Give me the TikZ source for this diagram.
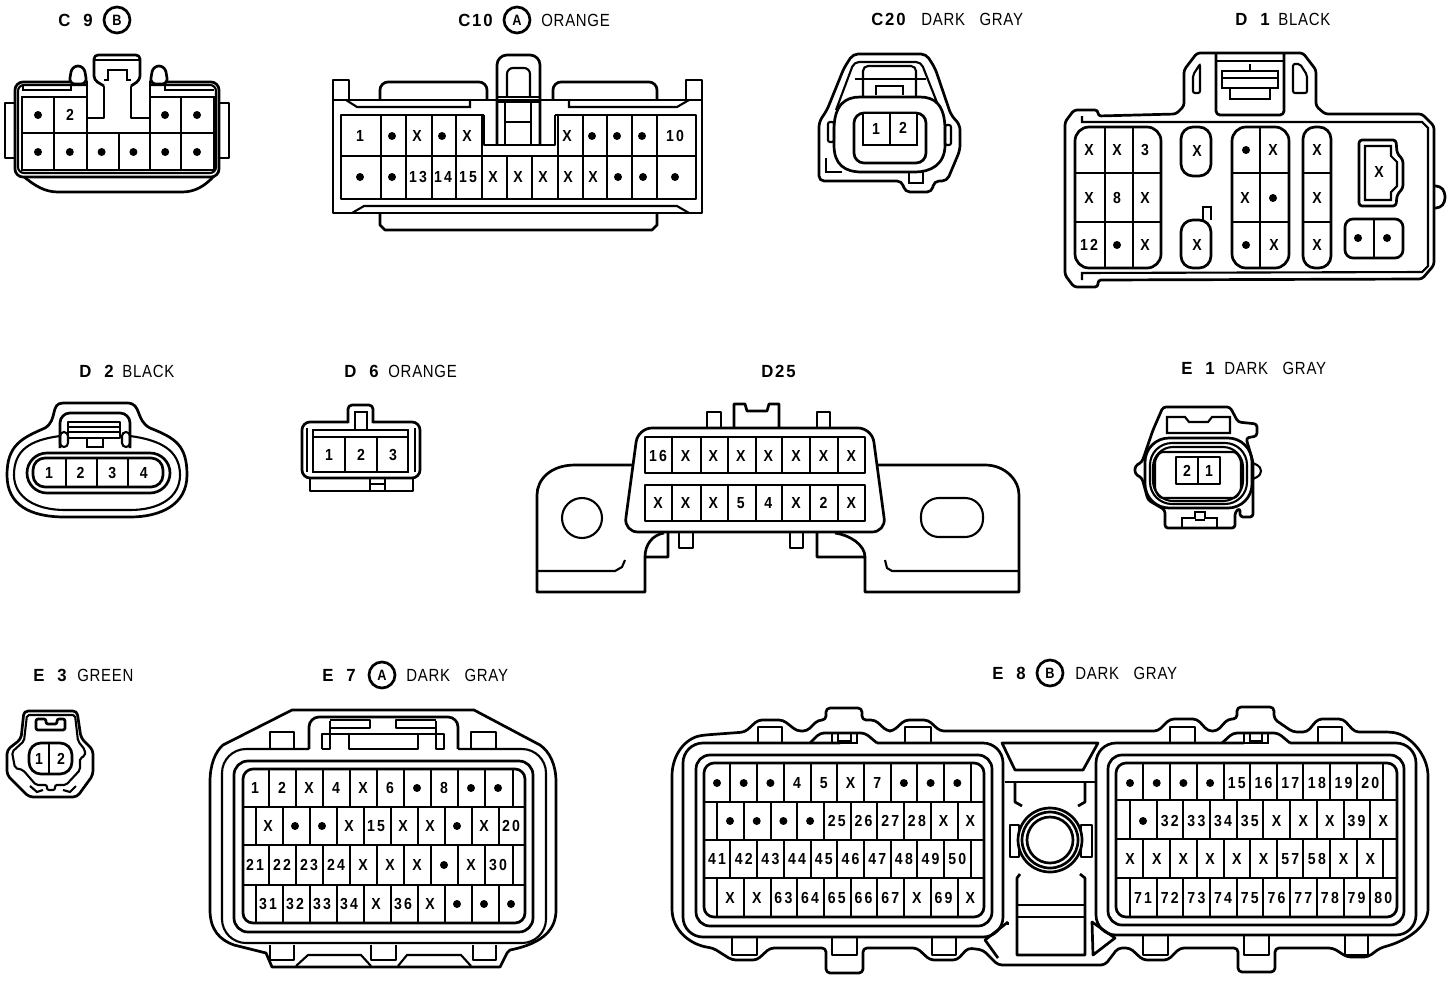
\documentclass[tikz,border=0pt]{standalone}
\usepackage{fontspec}
\setmainfont{Liberation Sans}[FakeStretch=0.85,LetterSpace=4,WordSpace=3]
\newfontfamily\pinfont{Liberation Sans}[FakeStretch=0.88,LetterSpace=14]
\newfontfamily\idfont{Liberation Sans}[FakeStretch=0.95,LetterSpace=10,WordSpace=2]
\tikzset{
    part/.style={line width=1.35pt, line join=round},
    cell/.style={line width=1.05pt},
    pin/.style={inner sep=0pt, font=\pinfont\bfseries\fontsize{8}{8}\selectfont},
    title/.style={anchor=west, inner sep=0pt, font=\fontsize{8.8}{9}\selectfont},
    idtitle/.style={anchor=west, inner sep=0pt, font=\idfont\bfseries\fontsize{8.8}{9}\selectfont},
    badge/.style={circle, draw, line width=1.35pt, minimum size=13pt, inner sep=0pt, font=\bfseries\fontsize{7.5}{8}\selectfont},
}
\newcommand{\pd}{\tikz\fill (0,0) circle (2pt);}
% one row of pin labels: name, first x, pitch, y, labels
\newcommand{\pinrow}[5]{\foreach \lab [count=\n from 0] in {#5} \node[pin] (#1-\n) at ({#2+\n*#3},#4) {\lab};}
\newcommand{\seps}[3]{\foreach \xx in {#1} \draw[cell] (\xx,#2) -- (\xx,#3);}
\begin{document}
\begin{tikzpicture}[x=0.5pt,y=-0.5pt]
    \useasboundingbox (0,0) rectangle (1456,980);
    \pgfmathsetmacro{\ep}{26.7};
    % titles
    \node[idtitle] (tc9) at (58,20) {C 9};
    \node[badge] (bc9) at (117,20) {B};
    \node[idtitle] (tc10) at (458,20) {C10};
    \node[badge] (bc10) at (517,20) {A};
    \node[title] (oc10) at (541,20) {ORANGE};
    \node[idtitle] (tc20) at (871,19) {C20};
    \node[title] (oc20) at (921,19) {DARK GRAY};
    \node[idtitle] (td1) at (1235,19) {D 1};
    \node[title] (od1) at (1278,19) {BLACK};
    \node[idtitle] (td2) at (79,371) {D 2};
    \node[title] (od2) at (122,371) {BLACK};
    \node[idtitle] (td6) at (344,371) {D 6};
    \node[title] (od6) at (388,371) {ORANGE};
    \node[idtitle] (td25) at (761,371) {D25};
    \node[idtitle] (te1) at (1181,368) {E 1};
    \node[title] (oe1) at (1224,368) {DARK GRAY};
    \node[idtitle] (te3) at (33,675) {E 3};
    \node[title] (oe3) at (77,675) {GREEN};
    \node[idtitle] (te7) at (322,675) {E 7};
    \node[badge] (be7) at (382,675) {A};
    \node[title] (de7) at (406,675) {DARK GRAY};
    \node[idtitle] (te8) at (992,673) {E 8};
    \node[badge] (be8) at (1050,673) {B};
    \node[title] (de8) at (1075,673) {DARK GRAY};

    % C9
    \draw[part] (5,103) rectangle (15,158);
    \draw[part] (219,103) rectangle (229,158);
    \draw[part] (23,176) .. controls (35,186) and (45,192) .. (58,192) -- (182,192) .. controls (195,192) and (205,186) .. (214,176);
    \draw[part,fill=white,rounded corners=4pt] (15,82) rectangle (219,177);
    \draw[cell,rounded corners=3pt] (18,85) rectangle (216,173);
    \draw[cell] (22,97) rectangle (214,170);
    \draw[part] (22,133) -- (214,133);
    \seps{54,87,119,150,181}{133}{170}
    \seps{54,181}{97}{133}
    \fill[white] (88,80) rectangle (149,131);
    \draw[cell] (23,85) -- (23,90) -- (71,90) -- (71,85);
    \draw[cell] (165,85) -- (165,90) -- (214,90);
    \draw[part] (87,82) -- (87,133);
    \draw[part] (150,82) -- (150,133);
    \draw[part] (87,118) -- (104,118) -- (104,80);
    \draw[part] (150,118) -- (131,118) -- (131,80);
    \draw[part,fill=white,rounded corners=3pt] (69,84) -- (72,66) -- (84,66) -- (87,84) -- cycle;
    \draw[part,fill=white,rounded corners=3pt] (150,84) -- (153,66) -- (165,66) -- (168,84) -- cycle;
    \draw[part,fill=white,rounded corners=2pt] (104,86) -- (94,80) -- (94,55) -- (140,55) -- (140,80) -- (131,86);
    \draw[cell] (95,60) -- (139,60);
    \draw[cell] (104,80) -- (108,80) -- (108,70) -- (127,70) -- (127,80) -- (131,80);
    \pinrow{c9a}{38}{32}{115}{\pd,2}
    \pinrow{c9b}{165}{32}{115}{\pd,\pd}
    \pinrow{c9c}{38}{31.8}{152}{\pd,\pd,\pd,\pd,\pd,\pd}

    % C10
    \draw[part] (380,213) -- (380,225) -- (385,230) -- (652,230) -- (657,225) -- (657,213);
    \draw[part] (349,100) -- (349,80) -- (333,80) -- (333,213) -- (702,213) -- (702,80) -- (686,80) -- (686,100);
    \draw[part] (333,100) -- (702,100);
    \draw[part,rounded corners=4pt] (380,100) -- (380,82) -- (487,82) -- (487,100);
    \draw[part,rounded corners=4pt] (553,100) -- (553,82) -- (657,82) -- (657,100);
    \draw[cell] (346,100) -- (357,107) -- (470,107) -- (470,100);
    \draw[cell] (569,100) -- (569,107) -- (677,107) -- (689,100);
    \draw[cell] (352,213) -- (364,206) -- (677,206) -- (689,213);
    \draw[part] (341,115) rectangle (696,199);
    \draw[part] (341,156) -- (696,156);
    \seps{381,406,432,456,482,558,583,607,632,657}{115}{199}
    \seps{507,532}{156}{199}
    \fill[white] (483,102) rectangle (557,155);
    \draw[part] (484,115) -- (484,145) -- (555,145) -- (555,115);
    \draw[part] (482,115) -- (484,115);
    \draw[part] (555,115) -- (558,115);
    \draw[part] (484,156) -- (555,156);
    \draw[part,rounded corners=5pt] (497,145) -- (497,55) -- (540,55) -- (540,145);
    \draw[cell,rounded corners=3pt] (507,96) -- (507,68) -- (530,68) -- (530,96);
    \draw[part] (497,97) -- (540,97);
    \draw[cell] (497,102) -- (540,102);
    \draw[cell] (505,102) -- (505,145);
    \draw[cell] (531,102) -- (531,145);
    \draw[cell] (505,122) -- (531,122);
    \pinrow{c10a}{392}{25}{136}{\pd,X,\pd,X}
    \pinrow{c10b}{567}{25}{136}{X,\pd,\pd,\pd}
    \pinrow{c10c}{418}{25}{177}{13,14,15,X,X,X,X,X,\pd,\pd}
    \node[pin] (c10d) at (360,136) {1};
    \node[pin] (c10e) at (675,136) {10};
    \node[pin] (c10f) at (360,177) {\pd};
    \node[pin] (c10g) at (392,177) {\pd};
    \node[pin] (c10h) at (675,177) {\pd};

    % C20
    \draw[part,rounded corners=2.5pt] (853,54) -- (926,54) -- (935,68) -- (951,115) -- (960,125) -- (960,150) -- (947,181) -- (934,181) -- (932,192) -- (905,192) -- (902,181) -- (819,181) -- (819,122) -- (827,110) -- (844,68) -- cycle;
    \draw[cell,rounded corners=2.5pt] (836,110) -- (854,62) -- (921,62) -- (940,110);
    \draw[cell,rounded corners=2.5pt] (863,100) -- (863,66) -- (916,66) -- (916,100);
    \draw[cell] (855,79) -- (926,79);
    \draw[cell] (876,95) -- (876,86) -- (903,86) -- (903,95);
    \draw[part,fill=white] (834,130) .. controls (834,105) and (845,97) .. (860,97) -- (920,97) .. controls (935,97) and (945,105) .. (945,130) -- (945,145) .. controls (945,165) and (930,172) .. (915,172) -- (862,172) .. controls (845,172) and (834,165) .. (834,145) -- cycle;
    \draw[part,rounded corners=5pt] (854,113) rectangle (926,163);
    \draw[cell,fill=white] (863,113) rectangle (917,145);
    \draw[cell] (890,113) -- (890,145);
    \draw[cell,rounded corners=1pt] (828,122) rectangle (834,142);
    \draw[cell,rounded corners=1pt] (945,125) rectangle (951,145);
    \draw[cell] (826,158) -- (826,172) -- (842,172);
    \draw[cell] (909,172) -- (909,183) -- (923,183) -- (923,172);
    \node[pin] (c20a) at (876,129) {1};
    \node[pin] (c20b) at (903,128) {2};

    % D1
    \draw[part,rounded corners=1.5pt] (1098,110) -- (1074,110) -- (1065,122) -- (1065,275) -- (1074,287) -- (1098,287) -- (1098,280) -- (1422,279) -- (1434,265) -- (1434,126) -- (1422,114) -- (1325,114) -- (1316,106) -- (1316,70) -- (1303,53) -- (1197,53) -- (1184,70) -- (1184,106) -- (1176,114) -- (1098,116) -- cycle;
    \draw[cell] (1082,116) -- (1082,122) -- (1422,122) -- (1428,128) -- (1428,266) -- (1422,272) -- (1082,273) -- (1082,280);
    \draw[part,rounded corners=2pt] (1434,186) -- (1440,186) -- (1445,192) -- (1445,202) -- (1440,208) -- (1434,208);
    \draw[cell,rounded corners=1pt] (1193,93) -- (1193,75) -- (1200,64) -- (1200,93) -- cycle;
    \draw[cell,rounded corners=1pt] (1307,93) -- (1307,75) -- (1300,64) -- (1293,64) -- (1293,93) -- cycle;
    \draw[part,rounded corners=2pt] (1216,54) -- (1216,115) -- (1284,115) -- (1284,54);
    \draw[cell] (1216,61) -- (1284,61);
    \draw[cell] (1222,71) -- (1278,71) -- (1278,88) -- (1222,88) -- cycle;
    \draw[cell] (1250,64) -- (1250,71);
    \draw[cell] (1222,78) -- (1278,78);
    \draw[cell] (1230,88) -- (1230,99) -- (1270,99) -- (1270,88);
    \draw[part,rounded corners=7pt] (1075,127) rectangle (1161,268);
    \draw[part] (1075,173) -- (1161,173);
    \draw[part] (1075,222) -- (1161,222);
    \seps{1105,1133}{127}{268}
    \draw[part,rounded corners=6pt] (1181,127) rectangle (1211,176);
    \draw[part,rounded corners=6pt] (1181,220) -- (1211,220) -- (1211,268) -- (1181,268) -- cycle;
    \draw[cell] (1203,220) -- (1203,207) -- (1211,207) -- (1211,220);
    \draw[part,rounded corners=7pt] (1232,127) rectangle (1289,268);
    \draw[part] (1232,173) -- (1289,173);
    \draw[part] (1232,222) -- (1289,222);
    \seps{1260}{127}{268}
    \draw[part,rounded corners=6pt] (1303,127) rectangle (1331,268);
    \draw[part] (1303,173) -- (1331,173);
    \draw[part] (1303,222) -- (1331,222);
    \draw[part,rounded corners=1.5pt] (1359,140) -- (1396,140) -- (1397,153) -- (1403,160) -- (1403,188) -- (1397,195) -- (1396,206) -- (1359,206) -- cycle;
    \draw[cell] (1365,146) -- (1391,146) -- (1391,156) -- (1397,162) -- (1397,186) -- (1391,192) -- (1391,200) -- (1365,200) -- cycle;
    \draw[part,rounded corners=4pt] (1345,219) rectangle (1403,258);
    \seps{1374}{219}{258}
    \pinrow{d1a}{1089}{28}{150}{X,X,3}
    \pinrow{d1b}{1089}{28}{198}{X,8,X}
    \pinrow{d1c}{1089}{28}{245}{12,\pd,X}
    \node[pin] (d1d) at (1197,151) {X};
    \node[pin] (d1e) at (1197,245) {X};
    \pinrow{d1f}{1246}{27}{150}{\pd,X}
    \pinrow{d1g}{1245}{28}{198}{X,\pd}
    \pinrow{d1h}{1246}{28}{245}{\pd,X}
    \node[pin] (d1i) at (1317,150) {X};
    \node[pin] (d1j) at (1317,198) {X};
    \node[pin] (d1k) at (1317,245) {X};
    \node[pin] (d1l) at (1379,172) {X};
    \node[pin] (d1m) at (1358,238) {\pd};
    \node[pin] (d1n) at (1387,238) {\pd};

    % D2
    \draw[part] (63,403) -- (127,403) .. controls (142,403) and (135,420) .. (150,428) .. controls (175,438) and (187,445) .. (187,475) .. controls (187,505) and (160,517) .. (130,517) -- (65,517) .. controls (30,517) and (7,505) .. (7,475) .. controls (7,445) and (22,438) .. (45,428) .. controls (58,420) and (50,403) .. (63,403);
    \draw[cell] (60,436) .. controls (30,440) and (14,450) .. (14,475) .. controls (14,497) and (35,510) .. (65,510) -- (130,510) .. controls (160,510) and (180,497) .. (180,475) .. controls (180,450) and (160,440) .. (130,436);
    \draw[part,rounded corners=5pt] (60,448) -- (60,413) -- (130,413) -- (130,448);
    \draw[cell,rounded corners=2pt] (60,432) rectangle (68,447);
    \draw[cell,rounded corners=2pt] (122,432) rectangle (130,447);
    \draw[part] (68,422) rectangle (120,438);
    \draw[cell] (68,427) -- (120,427);
    \draw[cell] (68,432) -- (120,432);
    \draw[cell] (87,438) -- (87,447) -- (103,447) -- (103,438);
    \draw[part,rounded corners=10pt] (27,453) rectangle (170,493);
    \draw[part,rounded corners=6pt] (33,458) rectangle (163,487);
    \seps{66,97,128}{458}{487}
    \pinrow{d2a}{49}{31.6}{473}{1,2,3,4}

    % D6
    \draw[part] (310,478) -- (310,491) -- (413,491) -- (413,478);
    \draw[cell] (370,478) rectangle (385,491);
    \draw[cell] (370,484) -- (385,484);
    \draw[part,rounded corners=4pt] (348,422) -- (302,422) -- (302,478) -- (420,478) -- (420,422) -- (373,422);
    \draw[part,rounded corners=2pt] (348,423) -- (348,405) -- (373,405) -- (373,423);
    \draw[cell] (355,430) -- (355,412) -- (367,412) -- (367,430);
    \draw[cell] (307,428) -- (307,472);
    \draw[cell] (415,428) -- (415,472);
    \draw[cell] (313,430) rectangle (408,472);
    \draw[part] (313,437) -- (408,437);
    \seps{345,377}{437}{472}
    \pinrow{d6a}{329}{32}{455}{1,2,3}

    % D25
    \draw[part] (707,428) -- (707,412) -- (721,412) -- (721,428);
    \draw[part] (817,428) -- (817,412) -- (830,412) -- (830,428);
    \draw[part] (734,428) -- (734,404) -- (745,404) -- (747,411) -- (767,411) -- (769,404) -- (779,404) -- (779,428);
    \draw[part] (632,465) -- (575,465) .. controls (550,465) and (537,480) .. (537,495) -- (537,592) -- (645,592) -- (645,557) -- (668,557) -- (668,533);
    \draw[part] (645,557) .. controls (645,545) and (652,535) .. (664,533);
    \draw[part] (877,465) -- (985,465) .. controls (1005,465) and (1019,480) .. (1019,495) -- (1019,592) -- (865,592) -- (865,557) -- (817,557) -- (817,533);
    \draw[part] (865,557) .. controls (865,545) and (850,535) .. (835,533);
    \draw[cell] (537,571) -- (615,571) -- (622,567) -- (625,560);
    \draw[cell] (1019,571) -- (892,571) -- (887,568) -- (885,560);
    \draw[part] (679,533) -- (679,548) -- (693,548) -- (693,533);
    \draw[part] (790,533) -- (790,548) -- (803,548) -- (803,533);
    \draw[part,fill=white,rounded corners=7pt] (638,428) -- (872,428) -- (886,532) -- (624,532) -- cycle;
    \draw[part] (645,437) rectangle (865,473);
    \draw[part] (645,485) rectangle (865,521);
    \seps{672,701,728,756,782,810,838}{437}{473}
    \seps{672,701,728,756,782,810,838}{485}{521}
    \draw[cell] (582,518) circle (20);
    \draw[cell,rounded corners=9pt] (921,498) rectangle (983,537);
    \pinrow{d25a}{658}{27.6}{456}{16,X,X,X,X,X,X,X}
    \pinrow{d25b}{658}{27.6}{503}{X,X,X,5,4,X,2,X}

    % E1
    \draw[part,rounded corners=1.5pt] (1163,407) -- (1230,407) -- (1238,422) -- (1257,424) -- (1257,436) -- (1246,438) -- (1253,462) -- (1253,517) -- (1240,517) -- (1240,508) -- (1235,512) -- (1235,528) -- (1165,528) -- (1165,510) -- (1148,500) -- (1142,478) -- (1135,474) -- (1135,466) -- (1142,462) -- (1153,430) -- cycle;
    \draw[cell] (1167,417) -- (1185,417) -- (1189,422) -- (1208,422) -- (1212,417) -- (1230,417) -- (1230,433) -- (1167,433) -- cycle;
    \draw[part,rounded corners=12pt] (1145,438) rectangle (1252,508);
    \draw[cell,rounded corners=11pt] (1150,443) rectangle (1247,504);
    \draw[cell,rounded corners=10pt] (1153,447) rectangle (1243,501);
    \draw[cell,rounded corners=1.5pt] (1155,460) -- (1160,452) -- (1236,452) -- (1241,460) -- (1241,490) -- (1236,498) -- (1160,498) -- (1155,490) -- cycle;
    \draw[part] (1176,457) rectangle (1220,484);
    \seps{1198}{457}{484}
    \draw[cell,rounded corners=2pt] (1253,463) -- (1261,467) -- (1261,475) -- (1253,479);
    \draw[cell] (1182,528) -- (1182,518) -- (1195,518) -- (1195,512) -- (1205,512) -- (1205,518) -- (1217,518) -- (1217,528);
    \draw[cell] (1195,520) -- (1205,520);
    \pinrow{e1a}{1187}{22}{471}{2,1}

    % E3
    \draw[part,rounded corners=2pt] (24,711) -- (77,711) -- (81,738) -- (93,750) -- (93,775) -- (77,797) -- (29,797) -- (7,775) -- (7,750) -- (21,739) -- cycle;
    \draw[cell,rounded corners=1pt] (27,715) -- (75,715) -- (78,741) -- (85,750) -- (85,756) -- (80,758) -- (80,770) -- (66,785) -- (55,785) -- (55,790) -- (47,790) -- (47,785) -- (36,785) -- (23,770) -- (15,768) -- (12,752) -- (24,741) -- cycle;
    \draw[part,rounded corners=1pt] (36,719) -- (46,719) -- (46,724) -- (57,724) -- (57,719) -- (65,719) -- (65,730) -- (36,730) -- cycle;
    \draw[part,rounded corners=6pt] (29,743) rectangle (72,774);
    \seps{49}{743}{774}
    \draw[cell] (30,786) -- (37,792) -- (43,790);
    \draw[cell] (76,786) -- (70,792) -- (63,790);
    \pinrow{e3a}{39}{22}{759}{1,2}

    % E7
    \draw[part] (292,710) -- (474,710) -- (540,745) .. controls (550,752) and (556,765) .. (556,782) -- (556,910) .. controls (556,928) and (545,943) .. (510,950) -- (507,953) -- (500,967) -- (272,967) -- (266,953) -- (234,945) .. controls (220,940) and (210,930) .. (210,910) -- (210,782) .. controls (210,765) and (215,752) .. (223,745) -- cycle;
    \draw[cell,rounded corners=12pt] (309,749) -- (222,749) -- (222,943) -- (546,943) -- (546,749) -- (458,749);
    \draw[part,rounded corners=5pt] (309,749) -- (309,717) -- (458,717) -- (458,749);
    \draw[part] (270,749) -- (270,732) -- (294,732) -- (294,749);
    \draw[part] (471,749) -- (471,732) -- (496,732) -- (496,749);
    \draw[part] (322,749) -- (322,734) -- (444,734) -- (444,749) -- (436,749) -- (436,721);
    \draw[part] (322,749) -- (330,749) -- (330,721);
    \draw[part] (330,720) -- (370,720) -- (370,728) -- (330,728);
    \draw[part] (436,720) -- (396,720) -- (396,728) -- (436,728);
    \draw[part] (349,734) -- (349,749) -- (418,749) -- (418,734);
    \draw[part] (270,945) -- (270,960) -- (294,960) -- (294,945);
    \draw[part] (371,945) -- (371,960) -- (396,960) -- (396,945);
    \draw[part] (473,945) -- (473,960) -- (496,960) -- (496,945);
    \draw[cell] (296,966) -- (308,955) -- (361,955) -- (371,966);
    \draw[cell] (398,966) -- (407,955) -- (461,955) -- (471,966);
    \draw[part,rounded corners=7pt] (234,761) rectangle (533,932);
    \draw[part,rounded corners=5pt] (243,769) rectangle (525,923);
    \draw[part] (243,807) -- (525,807);
    \draw[part] (243,845) -- (525,845);
    \draw[part] (243,885) -- (525,885);
    \seps{269,296,323,350,377,404,431,458,485,513}{769}{807}
    \seps{256,283,310,337,364,391,418,445,472,499}{807}{845}
    \seps{269,296,323,350,377,404,431,458,485,513}{845}{885}
    \seps{256,283,310,337,364,391,418,445,472,499}{885}{923}
    \pinrow{e7a}{255}{27}{788}{1,2,X,4,X,6,\pd,8,\pd,\pd}
    \pinrow{e7b}{268}{27}{826}{X,\pd,\pd,X,15,X,X,\pd,X,20}
    \pinrow{e7c}{255}{27}{865}{21,22,23,24,X,X,X,\pd,X,30}
    \pinrow{e7d}{268}{27}{904}{31,32,33,34,X,36,X,\pd,\pd,\pd}

    % E8
    \draw[part,rounded corners=2pt] (672,780) .. controls (672,755) and (685,738) .. (705,735) -- (745,732) -- (758,720) -- (783,720) -- (797,731) -- (807,731) -- (818,720) -- (826,720) -- (826,708) -- (862,708) -- (862,720) -- (875,720) -- (887,731) -- (893,731) -- (905,720) -- (928,720) -- (940,731) -- (1158,731) -- (1170,719) -- (1197,719) -- (1208,731) -- (1217,731) -- (1228,719) -- (1237,719) -- (1237,707) -- (1274,707) -- (1274,719) -- (1293,732) -- (1307,732) -- (1318,719) -- (1343,719) -- (1355,732) -- (1390,732) .. controls (1410,735) and (1428,755) .. (1428,780) -- (1428,905) .. controls (1428,925) and (1410,940) .. (1380,948) -- (1368,957) -- (1347,957) -- (1333,948) -- (1275,948) -- (1275,972) -- (1238,972) -- (1238,948) -- (1180,948) -- (1168,960) -- (1143,960) -- (1130,948) -- (1118,948) -- (1105,965) -- (998,965) -- (983,950) -- (968,948) -- (957,960) -- (930,960) -- (917,948) -- (863,948) -- (863,973) -- (826,973) -- (826,948) -- (770,948) -- (757,960) -- (732,960) -- (713,948) .. controls (690,945) and (672,930) .. (672,905) -- cycle;
    % left block
    \draw[part,rounded corners=10pt] (832,743) -- (820,743) -- (683,743) -- (683,937) -- (1003,937) -- (1003,743) -- (877,743);
    \draw[part,rounded corners=2pt] (810,743) -- (820,733) -- (865,733) -- (877,743);
    \draw[cell] (832,733) -- (832,743) -- (857,743) -- (857,733);
    \draw[cell] (838,733) -- (838,741) -- (851,741) -- (851,733);
    \draw[part] (758,743) -- (758,727) -- (782,727) -- (782,743);
    \draw[part] (905,743) -- (905,727) -- (931,727) -- (931,743);
    \draw[part] (732,938) -- (732,955) -- (757,955) -- (757,938);
    \draw[part] (832,938) -- (832,955) -- (857,955) -- (857,938);
    \draw[part] (932,938) -- (932,955) -- (956,955) -- (956,938);
    \draw[part,rounded corners=7pt] (696,755) rectangle (992,926);
    \draw[part,rounded corners=5pt] (704,763) rectangle (984,917);
    \draw[part] (704,802) -- (984,802);
    \draw[part] (704,840) -- (984,840);
    \draw[part] (704,878) -- (984,878);
    \seps{730,757,784,811,837,864,891,917,944,971}{763}{802}
    \seps{717,744,771,797,824,851,877,904,931,958}{802}{840}
    \seps{730,757,784,811,837,864,891,917,944,971}{840}{878}
    \seps{717,744,771,797,824,851,877,904,931,958}{878}{917}
    \pinrow{e8a}{717}{\ep}{783}{\pd,\pd,\pd,4,5,X,7,\pd,\pd,\pd}
    \pinrow{e8b}{730}{\ep}{821}{\pd,\pd,\pd,\pd,25,26,27,28,X,X}
    \pinrow{e8c}{717}{\ep}{859}{41,42,43,44,45,46,47,48,49,50}
    \pinrow{e8d}{730}{\ep}{898}{X,X,63,64,65,66,67,X,69,X}
    % right block
    \draw[part,rounded corners=10pt] (1244,743) -- (1096,743) -- (1096,935) -- (1416,935) -- (1416,743) -- (1290,743);
    \draw[part,rounded corners=2pt] (1222,743) -- (1233,733) -- (1278,733) -- (1290,743);
    \draw[cell] (1244,733) -- (1244,743) -- (1268,743) -- (1268,733);
    \draw[cell] (1250,733) -- (1250,741) -- (1262,741) -- (1262,733);
    \draw[part] (1170,743) -- (1170,727) -- (1195,727) -- (1195,743);
    \draw[part] (1318,743) -- (1318,727) -- (1342,727) -- (1342,743);
    \draw[part] (1143,936) -- (1143,955) -- (1168,955) -- (1168,936);
    \draw[part] (1244,936) -- (1244,955) -- (1269,955) -- (1269,936);
    \draw[part] (1345,936) -- (1345,955) -- (1368,955) -- (1368,936);
    \draw[part,rounded corners=7pt] (1108,755) rectangle (1404,925);
    \draw[part,rounded corners=5pt] (1116,763) rectangle (1397,917);
    \draw[part] (1116,800) -- (1397,800);
    \draw[part] (1116,839) -- (1397,839);
    \draw[part] (1116,878) -- (1397,878);
    \seps{1143,1170,1197,1224,1250,1277,1303,1330,1357,1383}{763}{800}
    \seps{1130,1157,1183,1210,1237,1263,1290,1317,1344,1370}{800}{839}
    \seps{1143,1170,1197,1224,1250,1277,1303,1330,1357,1383}{839}{878}
    \seps{1130,1157,1183,1210,1237,1263,1290,1317,1344,1370}{878}{917}
    \pinrow{e8e}{1130}{\ep}{783}{\pd,\pd,\pd,\pd,15,16,17,18,19,20}
    \pinrow{e8f}{1143}{\ep}{821}{\pd,32,33,34,35,X,X,X,39,X}
    \pinrow{e8g}{1130}{\ep}{859}{X,X,X,X,X,X,57,58,X,X}
    \pinrow{e8h}{1143}{\ep}{898}{71,72,73,74,75,76,77,78,79,80}
    % middle
    \draw[part] (1002,743) -- (1098,743) -- (1083,770) -- (1015,770) -- cycle;
    \draw[part] (1005,782) -- (1095,782);
    \draw[part] (1015,782) -- (1015,802) -- (1022,806);
    \draw[part] (1085,782) -- (1085,802) -- (1078,806);
    \draw[part] (1010,825) rectangle (1019,857);
    \draw[part] (1081,825) rectangle (1092,857);
    \draw[part,fill=white] (1050,840) circle (32);
    \draw[part] (1050,840) circle (28);
    \draw[part] (1050,840) circle (23);
    \draw[part] (1020,874) -- (1017,878) -- (1017,955) -- (1085,955) -- (1085,878) -- (1080,874);
    \draw[part] (1017,905) -- (1085,905);
    \draw[part] (1017,917) -- (1085,917);
    \draw[part] (1008,922) -- (985,940) -- (998,958);
    \draw[part] (1008,922) -- (1008,925);
    \draw[part] (1092,922) -- (1115,938) -- (1093,955) -- cycle;
\end{tikzpicture}
\end{document}
